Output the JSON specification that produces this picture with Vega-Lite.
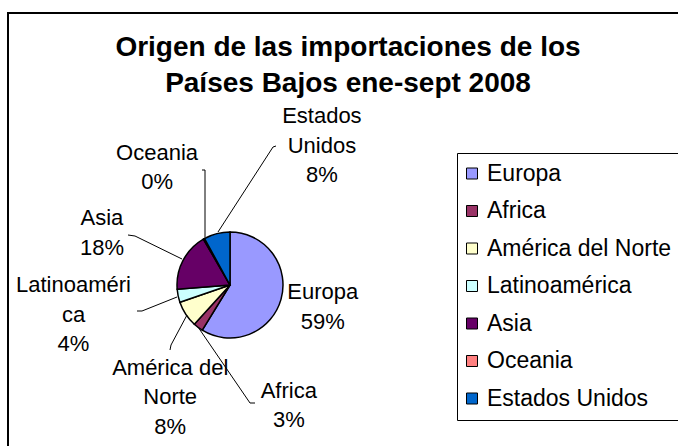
{
  "$schema": "https://vega.github.io/schema/vega-lite/v6.json",
  "width": 680,
  "height": 440,
  "autosize": {"type": "none"},
  "padding": {"left": 8, "top": 13, "right": -10, "bottom": -7},
  "background": "white",
  "config": {
    "view": {"stroke": "black", "strokeWidth": 2},
    "font": "Liberation Sans"
  },
  "title": {
    "text": ["Origen de las importaciones de los", "Países Bajos ene-sept 2008"],
    "fontSize": 28,
    "fontWeight": "bold",
    "font": "Liberation Sans",
    "color": "black",
    "anchor": "start",
    "frame": "group",
    "align": "center",
    "lineHeight": 36,
    "baseline": "top",
    "offset": -85,
    "dx": 340
  },
  "data": {
    "values": [
      {"region": "Europa", "orden": 1, "share": 0.59, "etiqueta": "Europa\n59%"},
      {"region": "Africa", "orden": 2, "share": 0.03, "etiqueta": "Africa\n3%"},
      {"region": "América del Norte", "orden": 3, "share": 0.08, "etiqueta": "América del\nNorte\n8%"},
      {"region": "Latinoamérica", "orden": 4, "share": 0.04, "etiqueta": "Latinoaméri\nca\n4%"},
      {"region": "Asia", "orden": 5, "share": 0.18, "etiqueta": "Asia\n18%"},
      {"region": "Oceania", "orden": 6, "share": 0.004, "etiqueta": "Oceania\n0%"},
      {"region": "Estados Unidos", "orden": 7, "share": 0.08, "etiqueta": "Estados\nUnidos\n8%"}
    ]
  },
  "layer": [
    {
      "mark": {"type": "arc", "outerRadius": 53, "stroke": "black", "strokeWidth": 1.5, "x": 222, "y": 272},
      "encoding": {
        "theta": {"field": "share", "type": "quantitative", "stack": true},
        "order": {"field": "orden", "type": "quantitative"},
        "color": {
          "field": "region",
          "type": "nominal",
          "sort": ["Europa", "Africa", "América del Norte", "Latinoamérica", "Asia", "Oceania", "Estados Unidos"],
          "scale": {
            "domain": ["Europa", "Africa", "América del Norte", "Latinoamérica", "Asia", "Oceania", "Estados Unidos"],
            "range": ["#9999FF", "#993366", "#FFFFCC", "#CCFFFF", "#660066", "#FF8080", "#0066CC"]
          },
          "legend": {
            "orient": "none",
            "legendX": 449,
            "legendY": 140,
            "title": null,
            "strokeColor": "black",
            "fillColor": "white",
            "padding": 9,
            "symbolType": "square",
            "symbolSize": 121,
            "symbolStrokeColor": "black",
            "symbolStrokeWidth": 1,
            "symbolOpacity": 1,
            "symbolOffset": -5.5,
            "labelFontSize": 23,
            "labelFont": "Liberation Sans",
            "labelColor": "black",
            "labelOffset": 3.5,
            "labelLimit": 400,
            "rowPadding": 13.5
          }
        }
      }
    },
    {
      "data": {
        "values": [
          {"region": "Estados Unidos", "paso": 1, "px": 210, "py": 219},
          {"region": "Estados Unidos", "paso": 2, "px": 265, "py": 134},
          {"region": "Estados Unidos", "paso": 3, "px": 268, "py": 133},
          {"region": "Oceania", "paso": 1, "px": 194, "py": 157},
          {"region": "Oceania", "paso": 2, "px": 197, "py": 157},
          {"region": "Oceania", "paso": 3, "px": 197, "py": 224},
          {"region": "Asia", "paso": 1, "px": 120, "py": 222},
          {"region": "Asia", "paso": 2, "px": 127, "py": 223},
          {"region": "Asia", "paso": 3, "px": 174, "py": 246},
          {"region": "Latinoamérica", "paso": 1, "px": 129, "py": 298},
          {"region": "Latinoamérica", "paso": 2, "px": 134, "py": 298},
          {"region": "Latinoamérica", "paso": 3, "px": 169, "py": 284},
          {"region": "América del Norte", "paso": 1, "px": 162, "py": 337},
          {"region": "América del Norte", "paso": 2, "px": 163, "py": 332},
          {"region": "América del Norte", "paso": 3, "px": 179, "py": 302},
          {"region": "Africa", "paso": 1, "px": 190, "py": 314},
          {"region": "Africa", "paso": 2, "px": 242, "py": 390},
          {"region": "Africa", "paso": 3, "px": 247, "py": 390}
        ]
      },
      "mark": {"type": "line", "color": "black", "strokeWidth": 1},
      "encoding": {
        "x": {"field": "px", "type": "quantitative", "scale": null},
        "y": {"field": "py", "type": "quantitative", "scale": null},
        "detail": {"field": "region"},
        "order": {"field": "paso"}
      }
    },
    {
      "mark": {
        "type": "text",
        "x": 222,
        "y": 272,
        "fontSize": 22,
        "font": "Liberation Sans",
        "color": "black",
        "lineBreak": "\n",
        "lineHeight": 29.5,
        "align": "center",
        "baseline": "middle",
        "theta": {"expr": "datum.region==='Europa'?1.651:datum.region==='Africa'?2.634:datum.region==='América del Norte'?3.768:datum.region==='Latinoamérica'?4.712:datum.region==='Asia'?5.194:datum.region==='Oceania'?5.779:0.499"},
        "radius": {"expr": "datum.region==='Europa'?93:datum.region==='Africa'?121:datum.region==='América del Norte'?102:datum.region==='Latinoamérica'?156.5:datum.region==='Asia'?144.5:datum.region==='Oceania'?151:192"}
      },
      "encoding": {
        "text": {"field": "etiqueta"}
      }
    }
  ]
}
